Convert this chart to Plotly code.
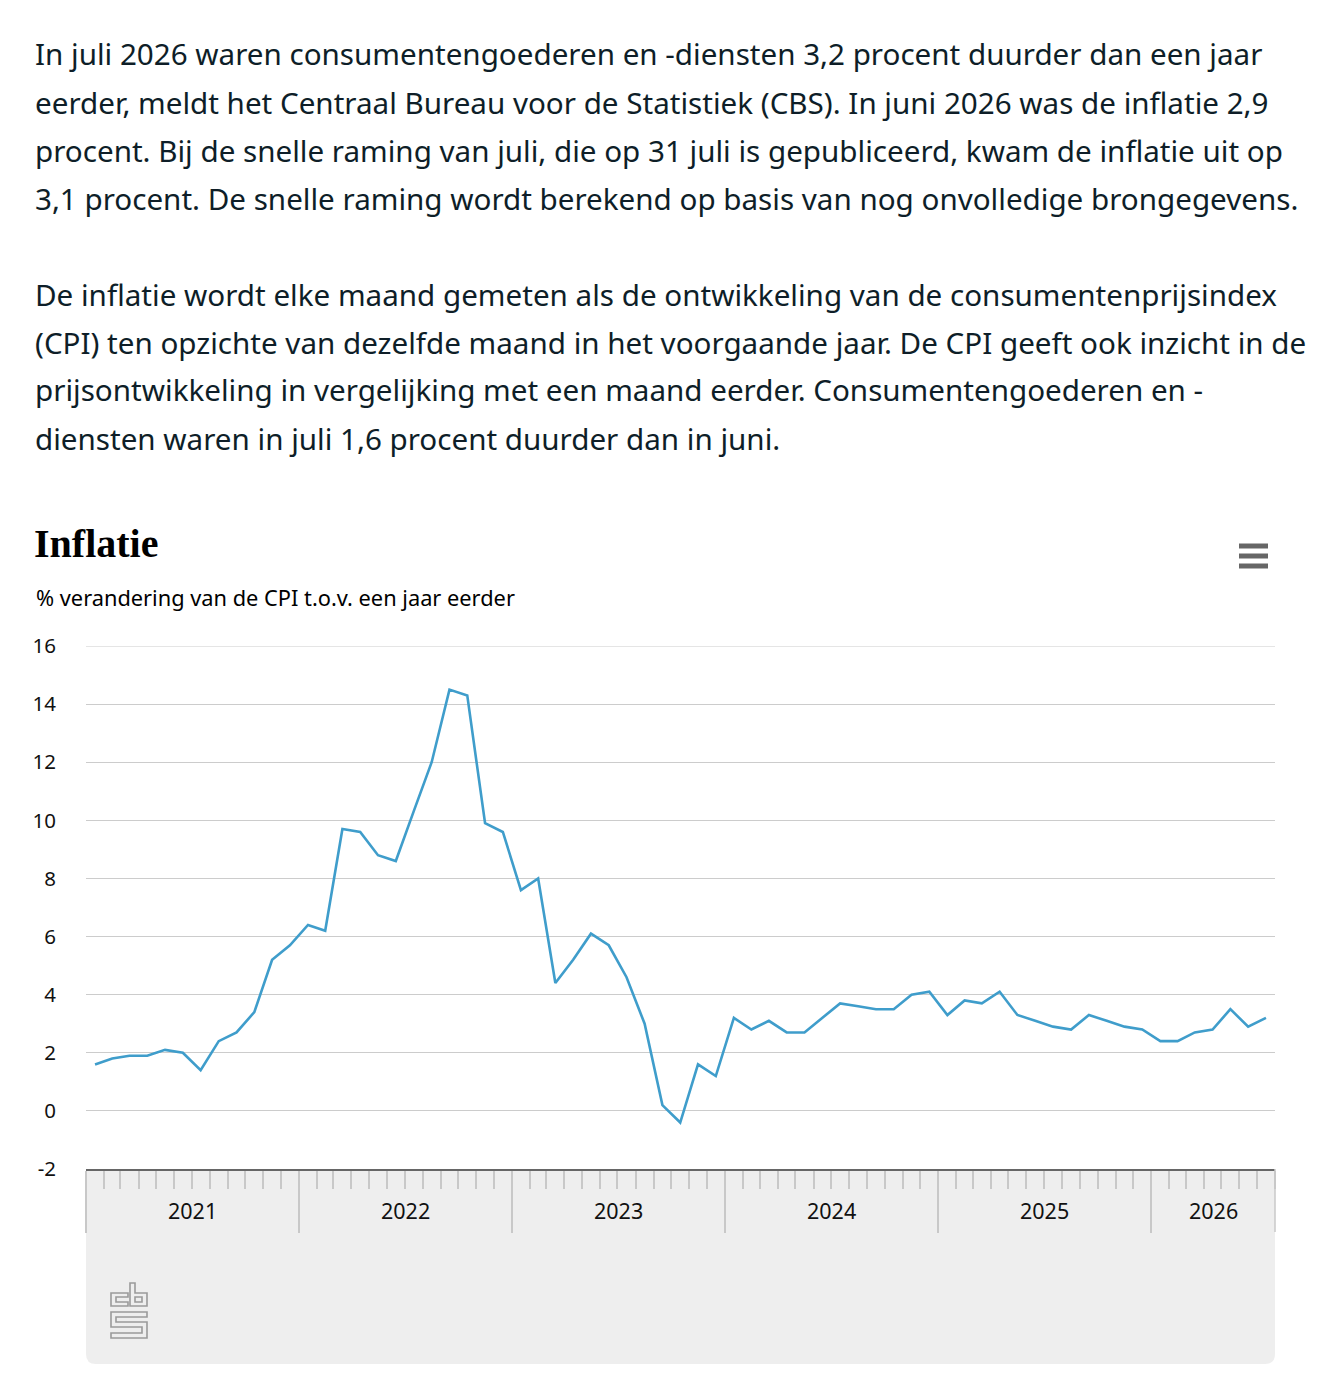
import plotly.graph_objects as go
import datetime as dt

# Inflatie (% verandering CPI t.o.v. een jaar eerder), jan 2021 - jul 2026
start_year = 2021
cpi_2021 = [1.6, 1.8, 1.9, 1.9, 2.1, 2.0, 1.4, 2.4, 2.7, 3.4, 5.2, 5.7]
cpi_2022 = [6.4, 6.2, 9.7, 9.6, 8.8, 8.6, 10.3, 12.0, 14.5, 14.3, 9.9, 9.6]
cpi_2023 = [7.6, 8.0, 4.4, 5.2, 6.1, 5.7, 4.6, 3.0, 0.2, -0.4, 1.6, 1.2]
cpi_2024 = [3.2, 2.8, 3.1, 2.7, 2.7, 3.2, 3.7, 3.6, 3.5, 3.5, 4.0, 4.1]
cpi_2025 = [3.3, 3.8, 3.7, 4.1, 3.3, 3.1, 2.9, 2.8, 3.3, 3.1, 2.9, 2.8]
cpi_2026 = [2.4, 2.4, 2.7, 2.8, 3.5, 2.9, 3.2]

y_ticks = [-2, 0, 2, 4, 6, 8, 10, 12, 14, 16]
y_labels = ["-2", "0", "2", "4", "6", "8", "10", "12", "14", "16"]
year_labels = ["2021", "2022", "2023", "2024", "2025", "2026"]

paragraph_1 = [
    "In juli 2026 waren consumentengoederen en -diensten 3,2 procent duurder dan een jaar",
    "eerder, meldt het Centraal Bureau voor de Statistiek (CBS). In juni 2026 was de inflatie 2,9",
    "procent. Bij de snelle raming van juli, die op 31 juli is gepubliceerd, kwam de inflatie uit op",
    "3,1 procent. De snelle raming wordt berekend op basis van nog onvolledige brongegevens.",
]
paragraph_2 = [
    "De inflatie wordt elke maand gemeten als de ontwikkeling van de consumentenprijsindex",
    "(CPI) ten opzichte van dezelfde maand in het voorgaande jaar. De CPI geeft ook inzicht in de",
    "prijsontwikkeling in vergelijking met een maand eerder. Consumentengoederen en -",
    "diensten waren in juli 1,6 procent duurder dan in juni.",
]
title = "Inflatie"
subtitle = "% verandering van de CPI t.o.v. een jaar eerder"

# build the series
values = cpi_2021 + cpi_2022 + cpi_2023 + cpi_2024 + cpi_2025 + cpi_2026
dates = []
for i in range(len(values)):
    y = start_year + i // 12
    m = i % 12 + 1
    dates.append(f"{y}-{m:02d}-01")
x_start = "2021-01-01"
x_end = "2026-08-01"

# page geometry (page pixels; the page body has an 8px margin)
OFF = 8
W, H = 1330 - 2 * OFF, 1384 - 2 * OFF
L, R, T, B = 86, 1275, 646, 1169
FONT = "Noto Sans"
TEXT = "#0e1e28"


def px(x):
    return (x - L) / (R - L)


def py(y):
    return (B - y) / (B - T)


fig = go.Figure()
fig.add_trace(go.Scatter(
    x=dates, y=values, mode="lines",
    xperiod="M1", xperiodalignment="middle",
    line=dict(color="#3f9dcb", width=2.6),
    hoverinfo="skip", showlegend=False,
))

annotations = []
for i, line in enumerate(paragraph_1):
    annotations.append(dict(text=line, x=px(33), y=py(54 + 48 * i)))
for i, line in enumerate(paragraph_2):
    annotations.append(dict(text=line, x=px(33), y=py(294 + 48 * i)))
for a in annotations:
    a.update(xref="paper", yref="paper", xanchor="left", yanchor="middle",
             showarrow=False, font=dict(family=FONT, size=29.6, color=TEXT))
annotations.append(dict(text="<b>" + title + "</b>", x=px(32), y=py(543), xref="paper", yref="paper",
                        xanchor="left", yanchor="middle", showarrow=False,
                        font=dict(family="Liberation Serif", size=40, color="#000")))
annotations.append(dict(text=subtitle, x=px(34), y=py(597), xref="paper", yref="paper",
                        xanchor="left", yanchor="middle", showarrow=False,
                        font=dict(family=FONT, size=21.8, color="#000")))

# year labels centred in the visible part of each year
for i, lab in enumerate(year_labels):
    da = dt.date(start_year + i, 1, 1)
    db = min(dt.date(start_year + i + 1, 1, 1), dt.date.fromisoformat(x_end))
    mid = da + (db - da) / 2
    annotations.append(dict(text=lab, x=mid.isoformat(), xref="x", y=py(1210), yref="paper",
                            xanchor="center", yanchor="middle", showarrow=False,
                            font=dict(family=FONT, size=21.5, color="#111")))

# grey footer box with rounded bottom corners
r = 10
x0, x1, y0, y1 = L, R, B, 1364
box = (f"M {px(x0)},{py(y0)} L {px(x1)},{py(y0)} L {px(x1)},{py(y1 - r)} "
       f"Q {px(x1)},{py(y1)} {px(x1 - r)},{py(y1)} L {px(x0 + r)},{py(y1)} "
       f"Q {px(x0)},{py(y1)} {px(x0)},{py(y1 - r)} Z")
shapes = [dict(type="path", path=box, xref="paper", yref="paper",
               fillcolor="#eeeeee", line=dict(width=0), layer="below")]
# top gridline (plotly drops the one on the range edge)
shapes.append(dict(type="line", xref="paper", yref="y", x0=0, x1=1, y0=y_ticks[-1], y1=y_ticks[-1],
                   line=dict(color="#cccccc", width=1), layer="below"))
# right edge tick of the axis
shapes.append(dict(type="line", xref="paper", yref="paper", x0=1, x1=1, y0=0, y1=py(1232),
                   line=dict(color="#c8c8c8", width=1.5)))


def poly(points, closed=True):
    s = "M " + " L ".join(f"{px(x)},{py(y)}" for x, y in points)
    return s + (" Z" if closed else "")


# cbs logo outline
logo = [
    [(128, 1293), (111, 1293), (111, 1306), (128, 1306), (128, 1302), (116, 1302), (116, 1297), (128, 1297)],
    [(130, 1283), (135, 1283), (135, 1293), (147, 1293), (147, 1306), (130, 1306)],
    [(135, 1297), (142, 1297), (142, 1302), (135, 1302)],
    [(111, 1312), (147, 1312), (147, 1317), (116, 1317), (116, 1322), (147, 1322), (147, 1338),
     (111, 1338), (111, 1333), (142, 1333), (142, 1327), (111, 1327)],
]
for pts in logo:
    shapes.append(dict(type="path", path=poly(pts), xref="paper", yref="paper",
                       line=dict(color="#9a9a9a", width=1.6)))

# menu icon
for yy in (546, 556, 566):
    shapes.append(dict(type="line", xref="paper", yref="paper", x0=px(1239), x1=px(1268),
                       y0=py(yy), y1=py(yy), line=dict(color="#666666", width=5)))

fig.update_layout(
    width=W, height=H,
    margin=dict(l=L - OFF, r=W - (R - OFF), t=T - OFF, b=H - (B - OFF), pad=0),
    paper_bgcolor="white", plot_bgcolor="white",
    annotations=annotations, shapes=shapes,
    hovermode=False,
    font=dict(family=FONT, color="#111"),
)
fig.update_xaxes(
    type="date", range=[x_start, x_end],
    dtick="M12", tick0=x_start, showticklabels=False,
    ticks="outside", ticklen=62, tickcolor="#c8c8c8", tickwidth=1.5,
    minor=dict(dtick="M1", tick0=x_start, ticks="outside", ticklen=18,
               tickcolor="#c8c8c8", tickwidth=1.5),
    showline=True, linecolor="#666666", linewidth=2,
    showgrid=False, zeroline=False,
)
fig.update_yaxes(
    range=[y_ticks[0], y_ticks[-1]], tickvals=y_ticks, ticktext=y_labels,
    showgrid=True, gridcolor="#cccccc", gridwidth=1,
    zeroline=False, showline=False, ticks="",
    ticklabelstandoff=29,
    tickfont=dict(family=FONT, size=20.5, color="#111"),
)

fig.write_html("out.html", config={"displayModeBar": False})
